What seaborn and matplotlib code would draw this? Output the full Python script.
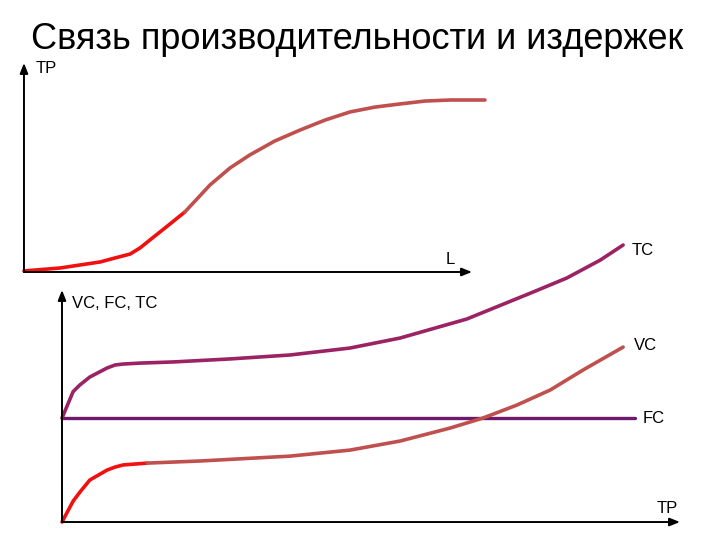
import pandas as pd
import matplotlib
matplotlib.use("Agg")
import matplotlib.pyplot as plt
import seaborn as sns

sns.set_theme(style="white")
plt.rcParams["font.family"] = ["Liberation Sans", "DejaVu Sans"]
plt.rcParams["text.color"] = "black"

# Top chart: total product (TP) vs labour (L)
tp_red_l = [0.0, 0.80, 1.70, 2.03, 2.37, 2.59, 2.81, 3.15, 3.59]
tp_red_v = [0.05, 0.19, 0.48, 0.67, 0.86, 1.15, 1.53, 2.11, 2.87]
tp_brown_l = [3.59, 3.86, 4.15, 4.60, 5.04, 5.60, 6.16, 6.72, 7.28, 7.83, 8.39, 8.95, 9.51, 10.29]
tp_brown_v = [2.87, 3.49, 4.16, 4.98, 5.60, 6.27, 6.79, 7.27, 7.66, 7.89, 8.04, 8.18, 8.23, 8.23]

# Bottom chart: costs vs TP
tc_q = [0.0, 0.18, 0.29, 0.45, 0.73, 0.86, 0.99, 1.26, 1.80, 2.72, 3.69, 4.66,
        5.47, 6.55, 7.62, 8.17, 8.71, 9.08]
tc_v = [4.48, 5.62, 5.91, 6.25, 6.64, 6.77, 6.81, 6.85, 6.90, 7.03, 7.20, 7.50,
        7.93, 8.75, 9.91, 10.52, 11.29, 11.94]
fc_q = [0.0, 9.27]
fc_v = [4.48, 4.48]
vc_red_q = [0.0, 0.18, 0.29, 0.45, 0.73, 0.86, 0.99, 1.38]
vc_red_v = [0.0, 0.90, 1.29, 1.81, 2.24, 2.37, 2.46, 2.54]
vc_brown_q = [1.38, 2.23, 3.69, 4.66, 5.47, 6.28, 6.81, 7.36, 7.90, 8.43, 9.08]
vc_brown_v = [2.54, 2.63, 2.84, 3.10, 3.49, 4.05, 4.48, 5.04, 5.69, 6.55, 7.54]

RED = "#f01010"
BROWN = "#c0504d"
TC_COL = "#9b2363"
FC_COL = "#6e1a6c"

fig = plt.figure(figsize=(7.2, 5.4), dpi=100)

fig.text(0.496, 0.927, "Связь производительности и издержек",
         ha="center", va="center", fontsize=26, color="black",
         family=["Liberation Sans Narrow", "Liberation Sans", "DejaVu Sans"])

arrow = dict(arrowstyle="-|>,head_length=0.5,head_width=0.2", color="black", lw=1.4,
             shrinkA=0, shrinkB=0)

# ---- top axes
ax1 = fig.add_axes([0.0333, 0.4963, 0.6222, 0.387])
ax1.set_xlim(0, 10)
ax1.set_ylim(0, 10)
ax1.axis("off")
sns.lineplot(x=tp_red_l, y=tp_red_v, ax=ax1, color=RED, lw=2.6, sort=False, clip_on=False)
sns.lineplot(x=tp_brown_l, y=tp_brown_v, ax=ax1, color=BROWN, lw=2.6, sort=False, clip_on=False)
ax1.annotate("", xy=(0, 10), xytext=(0, 0), arrowprops=arrow, annotation_clip=False)
ax1.annotate("", xy=(10, 0), xytext=(0, 0), arrowprops=arrow, annotation_clip=False)
ax1.text(0.25, 9.76, "TP", fontsize=12, va="center", ha="left")
ax1.text(9.51, 0.62, "L", fontsize=12, va="center", ha="center")

# ---- bottom axes
ax2 = fig.add_axes([0.0861, 0.0333, 0.8583, 0.4296])
ax2.set_xlim(0, 10)
ax2.set_ylim(0, 10)
ax2.axis("off")
sns.lineplot(x=fc_q, y=fc_v, ax=ax2, color=FC_COL, lw=2.4, sort=False, clip_on=False)
sns.lineplot(x=tc_q, y=tc_v, ax=ax2, color=TC_COL, lw=2.6, sort=False, clip_on=False)
sns.lineplot(x=vc_red_q, y=vc_red_v, ax=ax2, color=RED, lw=2.6, sort=False, clip_on=False)
sns.lineplot(x=vc_brown_q, y=vc_brown_v, ax=ax2, color=BROWN, lw=2.6, sort=False, clip_on=False)
ax2.annotate("", xy=(0, 10), xytext=(0, 0), arrowprops=arrow, annotation_clip=False)
ax2.annotate("", xy=(10, 0), xytext=(0, 0), arrowprops=arrow, annotation_clip=False)
ax2.text(0.16, 9.44, "VC, FC, TC", fontsize=12, va="center", ha="left")
ax2.text(9.22, 11.72, "TC", fontsize=12, va="center", ha="left")
ax2.text(9.26, 7.63, "VC", fontsize=12, va="center", ha="left")
ax2.text(9.39, 4.48, "FC", fontsize=12, va="center", ha="left")
ax2.text(9.8, 0.6, "TP", fontsize=12, va="center", ha="center")

fig.savefig("out.png", dpi=100)
